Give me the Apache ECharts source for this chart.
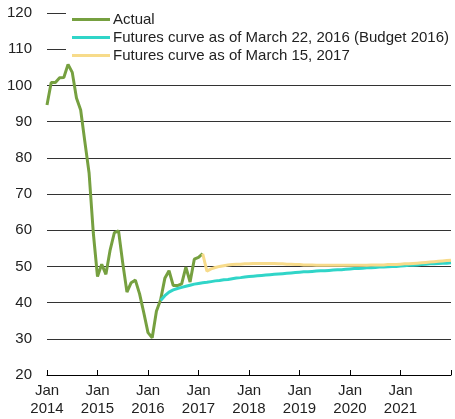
<!DOCTYPE html>
<html lang="en">
  <head>
    <meta charset="UTF-8" />
    <title>Oil price futures</title>
    <style>
      * {
        margin: 0;
        padding: 0;
      }
    </style>
  </head>
  <body>
    <div id="main" style="width: 455px; height: 419px;"></div>
    <script src="https://cdn.jsdelivr.net/npm/echarts@6/dist/echarts.min.js"></script>
    <script>
      // months Jan 2014 .. Jan 2022
      let months = [];
      for (let y = 2014; y <= 2022; y++) {
        for (let m = 1; m <= 12; m++) {
          if (y === 2022 && m > 1) break;
          months.push(y + "-" + (m < 10 ? "0" + m : m));
        }
      }

      // Actual, Jan 2014 - Feb 2017
      let actual = [
        94.6, 100.8, 100.8, 102.1, 102.2, 105.8, 103.6, 96.5, 93.2, 84.4, 75.8, 59.3,
        47.2, 50.6, 47.8, 54.5, 59.3, 59.8, 50.9, 42.9, 45.5, 46.2, 42.4, 37.2,
        31.7, 30.3, 37.6, 40.8, 46.7, 48.8, 44.7, 44.7, 45.2, 49.8, 45.7, 52.0,
        52.5, 53.5,
      ];
      // Futures curve as of March 22, 2016, Apr 2016 - Jan 2022
      let futures2016 = [
        40.6, 41.9, 42.9, 43.5, 43.9, 44.2, 44.5, 44.8, 45.1,
        45.3, 45.5, 45.6, 45.8, 46.0, 46.1, 46.3, 46.4, 46.6, 46.8, 46.9, 47.1,
        47.2, 47.3, 47.4, 47.5, 47.6, 47.7, 47.8, 47.9, 48.0, 48.1, 48.2, 48.3,
        48.4, 48.5, 48.5, 48.6, 48.7, 48.8, 48.8, 48.9, 49.0, 49.1, 49.1, 49.2,
        49.3, 49.4, 49.4, 49.5, 49.6, 49.6, 49.7, 49.8, 49.8, 49.9, 50.0, 50.0,
        50.1, 50.2, 50.3, 50.3, 50.4, 50.5, 50.6, 50.7, 50.7, 50.8, 50.9, 50.9,
        51.0,
      ];
      // Futures curve as of March 15, 2017, Feb 2017 - Jan 2022
      let futures2017 = [
        53.5, 48.7, 49.3, 49.7, 50.0, 50.2, 50.4, 50.5, 50.6, 50.6, 50.7,
        50.7, 50.8, 50.8, 50.8, 50.8, 50.8, 50.8, 50.7, 50.7, 50.6, 50.6, 50.5,
        50.5, 50.4, 50.4, 50.4, 50.3, 50.3, 50.3, 50.3, 50.3, 50.3, 50.3, 50.3,
        50.3, 50.3, 50.3, 50.3, 50.3, 50.4, 50.4, 50.4, 50.4, 50.5, 50.5, 50.5,
        50.6, 50.7, 50.7, 50.8, 50.9, 51.0, 51.1, 51.2, 51.3, 51.4, 51.5, 51.6,
        51.7,
      ];

      // pad a series so it starts at a given month
      function pad(arr, start) {
        let res = [];
        for (let i = 0; i < start; i++) res.push("-");
        return res.concat(arr);
      }

      let font = "Liberation Sans, Arial, sans-serif";
      let myEcharts = echarts.init(document.getElementById("main"));
      let option = {
        animation: false,
        grid: { left: 47, right: 4, top: 13, bottom: 44 },
        legend: {
          z: 1,
          orient: "vertical",
          left: 66,
          top: 7,
          padding: [5, 6, 2, 6],
          backgroundColor: "#fff",
          itemWidth: 38,
          itemHeight: 3,
          itemGap: 3,
          icon: "rect",
          textStyle: {
            fontFamily: font,
            fontSize: 15,
            lineHeight: 15,
            color: "#222",
            padding: [0, 0, 0, -2],
          },
          data: [
            { name: "Actual", itemStyle: { color: "#76a040" } },
            { name: "Futures curve as of March 22, 2016 (Budget 2016)", itemStyle: { color: "#30d5c8" } },
            { name: "Futures curve as of March 15, 2017", itemStyle: { color: "#f7db8a" } },
          ],
        },
        xAxis: {
          type: "category",
          boundaryGap: false,
          data: months,
          axisLine: { lineStyle: { color: "#000", width: 1 } },
          axisTick: {
            inside: true,
            length: 5,
            lineStyle: { color: "#000" },
            interval: function (i) {
              return i % 12 === 0;
            },
          },
          axisLabel: {
            interval: function (i) {
              return i % 12 === 0 && i < 96;
            },
            formatter: function (v) {
              return "Jan\n" + v.slice(0, 4);
            },
            fontFamily: font,
            fontSize: 15,
            color: "#222",
            lineHeight: 18,
            margin: 7,
          },
          splitLine: { show: false },
        },
        yAxis: {
          type: "value",
          min: 20,
          max: 120,
          interval: 10,
          axisLine: { show: false },
          axisTick: { show: false },
          axisLabel: { fontFamily: font, fontSize: 15, color: "#222", margin: 15 },
          splitLine: { lineStyle: { color: "#333", width: 1 } },
        },
        series: [
          {
            name: "Actual",
            type: "line",
            data: actual,
            showSymbol: false,
            lineStyle: { color: "#76a040", width: 3 },
            itemStyle: { color: "#76a040" },
          },
          {
            name: "Futures curve as of March 22, 2016 (Budget 2016)",
            type: "line",
            data: pad(futures2016, 27),
            showSymbol: false,
            lineStyle: { color: "#30d5c8", width: 3 },
            itemStyle: { color: "#30d5c8" },
          },
          {
            name: "Futures curve as of March 15, 2017",
            type: "line",
            data: pad(futures2017, 37),
            showSymbol: false,
            lineStyle: { color: "#f7db8a", width: 3 },
            itemStyle: { color: "#f7db8a" },
          },
        ],
      };
      myEcharts.setOption(option);
    </script>
  </body>
</html>
